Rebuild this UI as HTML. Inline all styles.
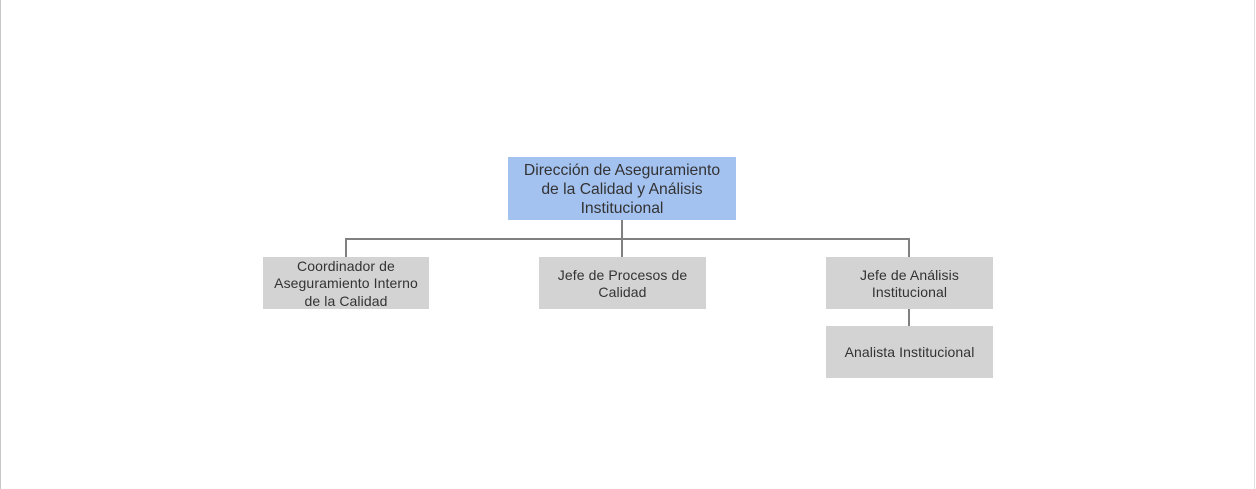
<!DOCTYPE html>
<html><head><style>
html,body{margin:0;padding:0;}
body{width:1256px;height:489px;background:#fff;position:relative;overflow:hidden;font-family:"Liberation Sans",Arial,sans-serif;}
.b{position:absolute;display:flex;align-items:center;justify-content:center;text-align:center;color:#333;box-sizing:border-box;padding-top:2px;}
.g{background:#d3d3d3;font-size:14px;line-height:17.5px;letter-spacing:0.1px;}
.l{position:absolute;background:#808080;}
</style></head><body>
<div style="position:absolute;left:0;top:0;width:1px;height:489px;background:#c8c8c8"></div>
<div style="position:absolute;left:1254px;top:0;width:1px;height:489px;background:#e0e0e0"></div>
<div class="l" style="left:621px;top:220px;width:2px;height:20px"></div>
<div class="l" style="left:345px;top:238px;width:565px;height:2px"></div>
<div class="l" style="left:345px;top:238px;width:2px;height:19px"></div>
<div class="l" style="left:621px;top:238px;width:2px;height:19px"></div>
<div class="l" style="left:908px;top:238px;width:2px;height:19px"></div>
<div class="l" style="left:908px;top:309px;width:2px;height:17px"></div>
<div class="b" style="left:508px;top:157px;width:228px;height:63px;background:#a4c2f0;font-size:15.7px;line-height:19px;">Dirección de Aseguramiento<br>de la Calidad y Análisis<br>Institucional</div>
<div class="b g" style="left:263px;top:257px;width:166px;height:52px;">Coordinador de<br>Aseguramiento Interno<br>de la Calidad</div>
<div class="b g" style="left:539px;top:257px;width:167px;height:52px;">Jefe de Procesos de<br>Calidad</div>
<div class="b g" style="left:826px;top:257px;width:167px;height:52px;">Jefe de Análisis<br>Institucional</div>
<div class="b g" style="left:826px;top:326px;width:167px;height:52px;">Analista Institucional</div>
</body></html>
